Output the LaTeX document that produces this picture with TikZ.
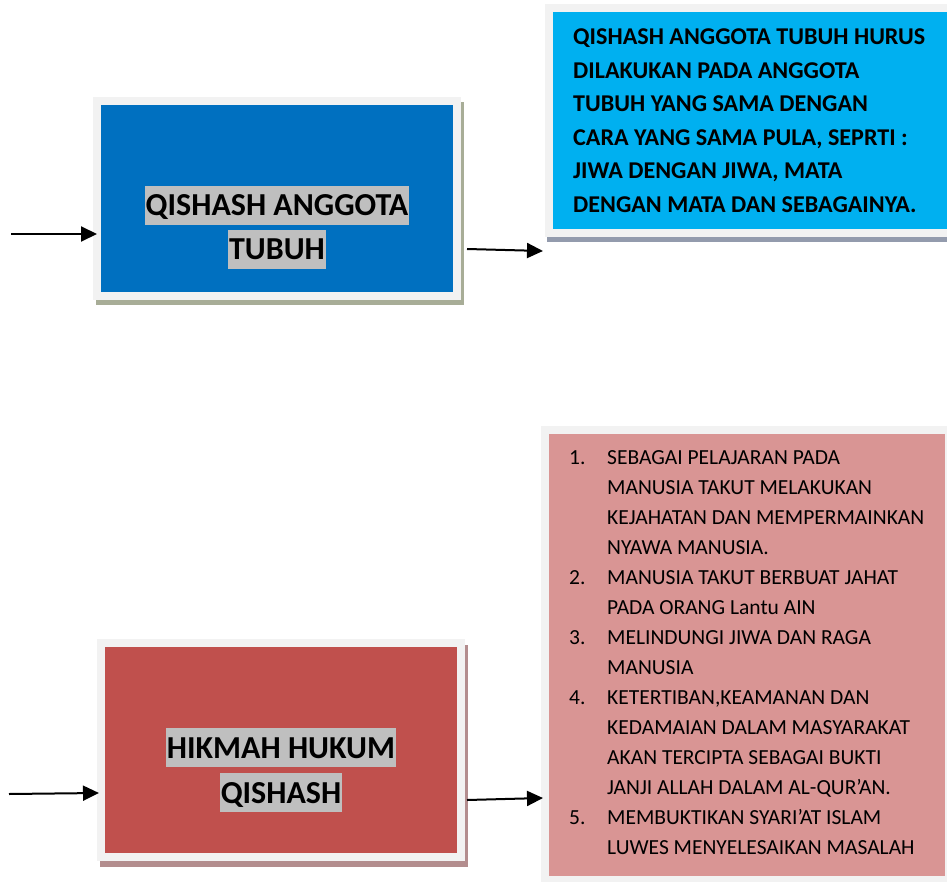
\documentclass[tikz,border=0pt]{standalone}
\usepackage{fontspec}
\setmainfont{Carlito}
\usetikzlibrary{arrows.meta,shadows}
\definecolor{framec}{HTML}{F2F2F2}
\definecolor{blueA}{HTML}{0070C0}
\definecolor{cyanA}{HTML}{00B0F0}
\definecolor{redA}{HTML}{C0504D}
\definecolor{pinkA}{HTML}{D99594}
\definecolor{hlgray}{HTML}{BFBFBF}
\definecolor{shA}{HTML}{A8AD97}
\definecolor{shB}{HTML}{939BAD}
\definecolor{shC}{HTML}{B38D8E}
\tikzset{
  outerbox/.style={fill=framec, inner sep=0, outer sep=0},
  hl/.style={fill=hlgray, inner xsep=1pt, inner ysep=0, text height=30pt, text depth=9pt, anchor=base,
    font=\fontsize{32}{44}\selectfont\bfseries},
  bodybold/.style={inner sep=0, anchor=base west, align=left, font=\fontsize{24.1}{33.5}\selectfont\bfseries},
  bodyreg/.style={inner sep=0, anchor=base west, align=left, font=\fontsize{21.5}{30}\selectfont},
  conn/.style={line width=2pt, -{Triangle[length=16pt,width=15pt]}}
}
\begin{document}
\begin{tikzpicture}[x=1pt,y=-1pt]
\useasboundingbox (0,0) rectangle (947,882);
% box 1
\node[outerbox, minimum width=368pt, minimum height=203pt,
  drop shadow={shadow xshift=3pt, shadow yshift=-5.5pt, fill=shA, opacity=1}] (b1) at (277,198.5) {};
\fill[blueA] ([shift={(8pt,-8pt)}]b1.north west) rectangle ([shift={(-8pt,8pt)}]b1.south east);
\node[hl] (t1a) at (277,216) {QISHASH ANGGOTA};
\node[hl] (t1b) at (277,260) {TUBUH};
% box 2
\node[outerbox, minimum width=415pt, minimum height=233pt,
  drop shadow={shadow xshift=2pt, shadow yshift=-5.5pt, fill=shB, opacity=1}] (b2) at (752.5,120.5) {};
\fill[cyanA] ([shift={(8pt,-8pt)}]b2.north west) rectangle ([shift={(-8pt,8pt)}]b2.south east);
% anchor base = baseline of last line
\node[bodybold] (t2) at (573,212.5) {QISHASH ANGGOTA TUBUH HURUS\\DILAKUKAN PADA ANGGOTA\\TUBUH YANG SAMA DENGAN\\CARA YANG SAMA PULA, SEPRTI :\\JIWA DENGAN JIWA, MATA\\DENGAN MATA DAN SEBAGAINYA.};
% box 3
\node[outerbox, minimum width=368pt, minimum height=222pt,
  drop shadow={shadow xshift=3pt, shadow yshift=-6pt, fill=shC, opacity=1}] (b3) at (281,750) {};
\fill[redA] ([shift={(8pt,-8pt)}]b3.north west) rectangle ([shift={(-8pt,8pt)}]b3.south east);
\node[hl] (t3a) at (281,758) {HIKMAH HUKUM};
\node[hl] (t3b) at (281,803) {QISHASH};
% box 4
\node[outerbox, minimum width=412pt, minimum height=458pt] (b4) at (747,655) {};
\fill[pinkA] ([shift={(8pt,-8pt)}]b4.north west) rectangle ([shift={(-8pt,8pt)}]b4.south east);
\node[bodyreg] (n1) at (569,464) {1.};
\node[bodyreg] (i1) at (607,554) {SEBAGAI PELAJARAN PADA\\MANUSIA TAKUT MELAKUKAN\\KEJAHATAN DAN MEMPERMAINKAN\\NYAWA MANUSIA.};
\node[bodyreg] (n2) at (569,584) {2.};
\node[bodyreg] (i2) at (607,614) {MANUSIA TAKUT BERBUAT JAHAT\\PADA ORANG Lantu AIN};
\node[bodyreg] (n3) at (569,644) {3.};
\node[bodyreg] (i3) at (607,674) {MELINDUNGI JIWA DAN RAGA\\MANUSIA};
\node[bodyreg] (n4) at (569,704) {4.};
\node[bodyreg] (i4) at (607,794) {KETERTIBAN,KEAMANAN DAN\\KEDAMAIAN DALAM MASYARAKAT\\AKAN TERCIPTA SEBAGAI BUKTI\\JANJI ALLAH DALAM AL-QUR’AN.};
\node[bodyreg] (n5) at (569,824) {5.};
\node[bodyreg] (i5) at (607,854) {MEMBUKTIKAN SYARI’AT ISLAM\\LUWES MENYELESAIKAN MASALAH};
% connectors
\coordinate (s1) at (11,234);
\coordinate (s3) at (9,794);
\coordinate (e1) at (97,234);
\coordinate (e3) at (99,793);
\coordinate (s2) at (467,249);
\coordinate (e2) at (543,251);
\coordinate (s4) at (467,800);
\coordinate (e4) at (543,798);
\draw[conn] (s1) -- (e1);
\draw[conn] (s2) -- (e2);
\draw[conn] (s3) -- (e3);
\draw[conn] (s4) -- (e4);
\end{tikzpicture}
\end{document}
